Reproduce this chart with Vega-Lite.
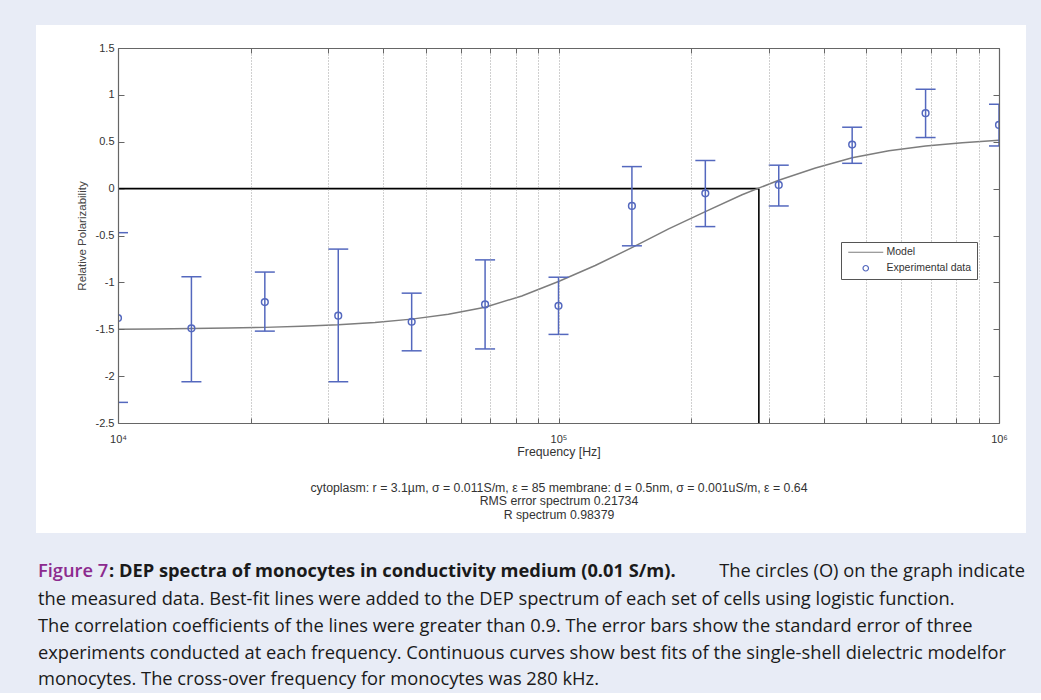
{
  "$schema": "https://vega.github.io/schema/vega-lite/v6.json",
  "background": "#e8ecf6",
  "padding": {"left": 35, "top": 25, "right": 16, "bottom": 4},
  "config": {
    "view": {"stroke": null},
    "font": "Liberation Sans",
    "concat": {"spacing": 0}
  },
  "datasets": {
    "measured": [
      {"freq": 10000, "mean": -1.38, "low": -2.28, "high": -0.47},
      {"freq": 14678, "mean": -1.49, "low": -2.06, "high": -0.94},
      {"freq": 21544, "mean": -1.21, "low": -1.52, "high": -0.89},
      {"freq": 31623, "mean": -1.355, "low": -2.06, "high": -0.645},
      {"freq": 46416, "mean": -1.42, "low": -1.73, "high": -1.115},
      {"freq": 68129, "mean": -1.235, "low": -1.71, "high": -0.76},
      {"freq": 100000, "mean": -1.25, "low": -1.555, "high": -0.945},
      {"freq": 146780, "mean": -0.185, "low": -0.61, "high": 0.235},
      {"freq": 215440, "mean": -0.05, "low": -0.405, "high": 0.3},
      {"freq": 316230, "mean": 0.04, "low": -0.185, "high": 0.25},
      {"freq": 464160, "mean": 0.47, "low": 0.27, "high": 0.655},
      {"freq": 681290, "mean": 0.805, "low": 0.545, "high": 1.06},
      {"freq": 1000000, "mean": 0.68, "low": 0.455, "high": 0.9}
    ],
    "model": [
      {"freq": 10000, "value": -1.5},
      {"freq": 12115, "value": -1.497},
      {"freq": 14678, "value": -1.493},
      {"freq": 17783, "value": -1.487},
      {"freq": 21544, "value": -1.48},
      {"freq": 26102, "value": -1.469},
      {"freq": 31623, "value": -1.453},
      {"freq": 38312, "value": -1.428},
      {"freq": 46416, "value": -1.392},
      {"freq": 56234, "value": -1.34},
      {"freq": 68129, "value": -1.265},
      {"freq": 82540, "value": -1.145},
      {"freq": 100000, "value": -0.99},
      {"freq": 121153, "value": -0.82},
      {"freq": 146780, "value": -0.63},
      {"freq": 177828, "value": -0.43},
      {"freq": 215443, "value": -0.245},
      {"freq": 261016, "value": -0.065},
      {"freq": 316228, "value": 0.09},
      {"freq": 383119, "value": 0.22},
      {"freq": 464159, "value": 0.33},
      {"freq": 562341, "value": 0.405},
      {"freq": 681292, "value": 0.455},
      {"freq": 825404, "value": 0.49},
      {"freq": 1000000, "value": 0.515}
    ],
    "crossover": [
      {"f_start": 10000, "f_end": 285000, "v_start": 0, "v_end": 0},
      {"f_start": 285000, "f_end": 285000, "v_start": 0, "v_end": -2.5}
    ]
  },
  "title": {
    "text": "The circles (O) on the graph indicate",
    "orient": "bottom", "anchor": "end", "frame": "bounds",
    "offset": -126, "dx": -1,
    "font": "Open Sans", "fontSize": 18.3, "fontWeight": "normal", "color": "#1a1a1a"
  },
  "vconcat": [
    {
      "title": {
        "text": ": DEP spectra of monocytes in conductivity medium (0.01 S/m).",
        "orient": "bottom", "anchor": "start", "frame": "bounds",
        "offset": -126, "dx": 73,
        "font": "Open Sans", "fontSize": 18.3, "fontWeight": "bold", "color": "#1a1a1a"
      },
      "vconcat": [
        {
          "title": {
            "text": "Figure 7",
            "subtitle": [
              "the measured data.  Best-fit lines were added to the DEP spectrum of each set of cells using logistic function.",
              "The correlation coefficients of the lines were greater than 0.9.  The error bars show the standard error of three",
              "experiments conducted at each frequency. Continuous curves show best fits of the single-shell dielectric modelfor",
              "monocytes. The cross-over frequency for monocytes was 280 kHz."
            ],
            "orient": "bottom", "anchor": "start", "frame": "bounds",
            "offset": 30, "dx": 2,
            "font": "Open Sans", "fontSize": 18.3, "fontWeight": 600, "color": "#8c2a8e",
            "subtitleFont": "Open Sans", "subtitleFontSize": 18.3, "subtitleColor": "#1a1a1a",
            "subtitleLineHeight": 26.7, "subtitlePadding": 10
          },
          "width": 881,
          "height": 375,
          "resolve": {"axis": {"x": "independent", "y": "independent"}},
          "layer": [
            {
              "data": {"values": [{}]},
              "mark": {"type": "rect", "fill": "white", "clip": false},
              "encoding": {
                "x": {"datum": 6513, "type": "quantitative", "scale": {"type": "log", "domain": [10000, 1000000], "nice": false}, "axis": null},
                "x2": {"datum": 1151500},
                "y": {"datum": 1.745, "type": "quantitative", "scale": {"domain": [-2.5, 1.5], "nice": false, "zero": false}, "axis": null},
                "y2": {"datum": -3.673}
              }
            },
            {
              "data": {"name": "crossover"},
              "mark": {"type": "rule", "color": "black", "strokeWidth": 1.6},
              "encoding": {
                "x": {"field": "f_start", "type": "quantitative", "axis": null},
                "x2": {"field": "f_end"},
                "y": {"field": "v_start", "type": "quantitative", "axis": null},
                "y2": {"field": "v_end"}
              }
            },
            {
              "data": {"name": "model"},
              "mark": {"type": "line", "strokeWidth": 1.5, "clip": true},
              "encoding": {
                "x": {
                  "field": "freq", "type": "quantitative",
                  "axis": {
                    "orient": "bottom",
                    "values": [10000, 20000, 30000, 40000, 50000, 60000, 70000, 80000, 90000, 100000, 200000, 300000, 400000, 500000, 600000, 700000, 800000, 900000, 1000000],
                    "labelExpr": "datum.value == 10000 ? '10⁴' : datum.value == 100000 ? '10⁵' : datum.value == 1000000 ? '10⁶' : ''",
                    "labelFlush": false, "labelOverlap": false,
                    "labelFont": "Liberation Sans", "labelFontSize": 11, "labelColor": "#333",
                    "labelPadding": 15,
                    "tickSize": -5, "tickColor": "#666", "tickWidth": 1,
                    "domainColor": "#666", "domainWidth": 1.2,
                    "grid": true, "gridColor": "#a0a0a0", "gridDash": [1, 2], "gridWidth": 1,
                    "title": "Frequency [Hz]",
                    "titleFont": "Liberation Sans", "titleFontSize": 12.3, "titleFontWeight": "normal", "titleColor": "#333",
                    "titlePadding": 1,
                    "zindex": 1
                  }
                },
                "y": {
                  "field": "value", "type": "quantitative",
                  "axis": {
                    "orient": "left",
                    "values": [-2.5, -2, -1.5, -1, -0.5, 0, 0.5, 1, 1.5],
                    "labelExpr": "datum.value + ''",
                    "labelFlush": false, "labelOverlap": false,
                    "labelFont": "Liberation Sans", "labelFontSize": 11, "labelColor": "#333",
                    "labelPadding": 10,
                    "tickSize": -6, "tickColor": "#666", "tickWidth": 1,
                    "domainColor": "#666", "domainWidth": 1.2,
                    "grid": false,
                    "title": "Relative Polarizability",
                    "titleFont": "Liberation Sans", "titleFontSize": 11.5, "titleFontWeight": "normal", "titleColor": "#444",
                    "titlePadding": 8,
                    "zindex": 1
                  }
                },
                "color": {
                  "datum": "Model", "type": "nominal",
                  "scale": {"domain": ["Model", "Experimental data"], "range": ["#7d7d7d", "#5468be"]},
                  "legend": {
                    "title": null,
                    "orient": "none", "legendX": 723, "legendY": 194,
                    "direction": "vertical",
                    "fillColor": "white", "strokeColor": "#555",
                    "padding": 5, "rowPadding": 5,
                    "symbolSize": 100, "symbolOffset": 14.5,
                    "labelOffset": 15.5,
                    "labelFont": "Liberation Sans", "labelFontSize": 10.5, "labelColor": "#333",
                    "encoding": {
                      "symbols": {
                        "shape": {"value": {"expr": "datum.value === 'Model' ? 'M-3.5,0H3.5' : 'circle'"}},
                        "size": {"value": {"expr": "datum.value === 'Model' ? 100 : 30"}},
                        "stroke": {"value": {"expr": "datum.value === 'Model' ? '#222' : '#5468be'"}},
                        "fill": {"value": "transparent"},
                        "strokeWidth": {"value": 1.2}
                      }
                    }
                  }
                }
              }
            },
            {
              "data": {"name": "measured"},
              "mark": {"type": "rule", "color": "#5468be", "strokeWidth": 1.5, "clip": true},
              "encoding": {
                "x": {
                  "field": "freq", "type": "quantitative",
                  "axis": {
                    "orient": "bottom",
                    "labels": false, "ticks": false, "domain": false, "grid": false,
                    "title": ["cytoplasm: r = 3.1µm, σ = 0.011S/m, ε = 85 membrane: d = 0.5nm, σ = 0.001uS/m, ε = 0.64", "RMS error spectrum 0.21734", "R spectrum 0.98379"],
                    "titleFont": "Liberation Sans", "titleFontSize": 12.3, "titleFontWeight": "normal", "titleColor": "#333",
                    "titleLineHeight": 13.5, "titlePadding": 58,
                    "zindex": 1
                  }
                },
                "y": {"field": "low", "type": "quantitative", "axis": null},
                "y2": {"field": "high"}
              }
            },
            {
              "data": {"name": "measured"},
              "mark": {"type": "tick", "orient": "horizontal", "size": 20, "thickness": 1.5, "color": "#5468be", "opacity": 1, "clip": true},
              "encoding": {
                "x": {"field": "freq", "type": "quantitative", "axis": null},
                "y": {"field": "low", "type": "quantitative", "axis": null}
              }
            },
            {
              "data": {"name": "measured"},
              "mark": {"type": "tick", "orient": "horizontal", "size": 20, "thickness": 1.5, "color": "#5468be", "opacity": 1, "clip": true},
              "encoding": {
                "x": {"field": "freq", "type": "quantitative", "axis": null},
                "y": {"field": "high", "type": "quantitative", "axis": null}
              }
            },
            {
              "data": {"name": "measured"},
              "mark": {"type": "point", "shape": "circle", "filled": false, "size": 45, "strokeWidth": 1.5, "color": "#5468be", "opacity": 1, "clip": true},
              "encoding": {
                "x": {
                  "field": "freq", "type": "quantitative",
                  "axis": {
                    "orient": "top",
                    "values": [10000, 20000, 30000, 40000, 50000, 60000, 70000, 80000, 90000, 100000, 200000, 300000, 400000, 500000, 600000, 700000, 800000, 900000, 1000000],
                    "labels": false, "grid": false, "title": null,
                    "tickSize": -5, "tickColor": "#666", "tickWidth": 1,
                    "domainColor": "#666", "domainWidth": 1.2,
                    "zindex": 1
                  }
                },
                "y": {
                  "field": "mean", "type": "quantitative",
                  "axis": {
                    "orient": "right",
                    "values": [-2.5, -2, -1.5, -1, -0.5, 0, 0.5, 1, 1.5],
                    "labels": false, "grid": false, "title": null,
                    "tickSize": -6, "tickColor": "#666", "tickWidth": 1,
                    "domainColor": "#666", "domainWidth": 1.2,
                    "zindex": 1
                  }
                }
              }
            }
          ]
        }
      ]
    }
  ]
}
